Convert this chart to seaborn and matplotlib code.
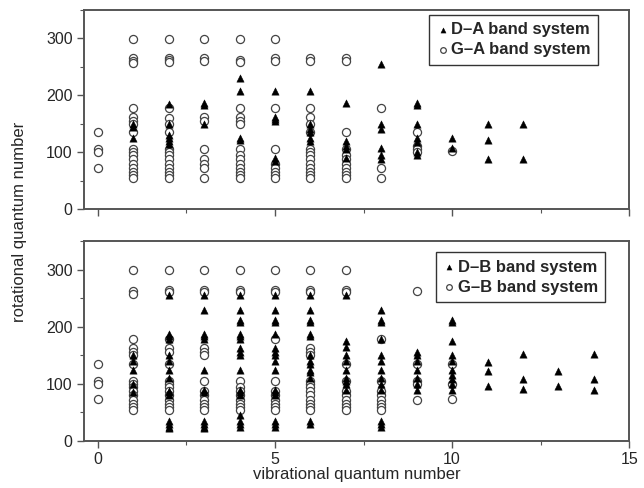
import matplotlib
matplotlib.use("Agg")
import matplotlib.pyplot as plt
from matplotlib.ticker import MultipleLocator
import seaborn as sns
import pandas as pd

# Observed rotational levels J for each vibrational level v
ga_levels = {
    0: [135, 105, 100, 73],
    1: [299, 265, 260, 257, 178, 162, 155, 150, 135, 105, 100, 95, 88, 80, 72, 65, 60, 55],
    2: [299, 265, 262, 258, 178, 160, 150, 135, 105, 100, 95, 88, 80, 72, 65, 60, 55],
    3: [299, 265, 260, 162, 155, 105, 88, 80, 72, 55],
    4: [299, 262, 258, 178, 162, 155, 150, 105, 95, 88, 80, 72, 65, 60, 55],
    5: [299, 265, 260, 178, 105, 80, 72, 65, 60, 55],
    6: [265, 260, 178, 162, 150, 135, 105, 100, 95, 88, 80, 72, 65, 60, 55],
    7: [265, 260, 135, 105, 95, 88, 80, 72, 65, 60, 55],
    8: [178, 72, 55],
    9: [135, 110, 105, 100],
    10: [102],
}
da_levels = {
    1: [150, 145, 125],
    2: [185, 150, 130, 125, 120, 115],
    3: [187, 183, 150],
    4: [230, 207, 125, 122],
    5: [207, 162, 158, 155, 90, 85],
    6: [207, 150, 140, 135, 125, 120],
    7: [187, 120, 110, 105, 90],
    8: [255, 150, 140, 108, 95, 88],
    9: [187, 183, 150, 125, 118, 100, 95],
    10: [125, 108],
    11: [150, 122, 88],
    12: [150, 88],
}
gb_levels = {
    0: [135, 105, 100, 73],
    1: [299, 262, 258, 178, 162, 155, 150, 135, 105, 100, 95, 88, 80, 72, 65, 60, 55],
    2: [299, 265, 260, 178, 162, 155, 135, 105, 100, 95, 88, 80, 72, 65, 60, 55],
    3: [299, 265, 260, 162, 155, 150, 105, 88, 80, 72, 65, 60, 55],
    4: [299, 265, 260, 105, 95, 88, 80, 72, 65, 60, 55],
    5: [299, 265, 260, 178, 105, 88, 80, 72, 65, 60, 55],
    6: [299, 265, 260, 162, 155, 150, 105, 100, 95, 88, 80, 72, 65, 60, 55],
    7: [299, 265, 260, 135, 105, 88, 80, 72, 65, 60, 55],
    8: [178, 105, 88, 80, 72, 65, 60, 55],
    9: [262, 135, 105, 100, 72],
    10: [135, 100, 73],
}
db_levels = {
    1: [150, 140, 125, 100, 85],
    2: [255, 188, 183, 178, 150, 140, 125, 110, 88, 85, 80, 35, 30, 25, 22],
    3: [255, 230, 188, 183, 178, 125, 90, 85, 35, 30, 25, 22],
    4: [255, 230, 212, 208, 188, 183, 178, 162, 155, 150, 125, 90, 85, 80, 45, 35, 30, 25],
    5: [255, 230, 212, 208, 188, 162, 155, 150, 140, 125, 90, 85, 80, 35, 30, 25],
    6: [255, 230, 212, 208, 188, 183, 150, 140, 135, 125, 120, 110, 35, 30],
    7: [255, 175, 165, 150, 140, 125, 110, 105, 100, 90],
    8: [230, 212, 208, 178, 150, 140, 125, 110, 100, 90, 35, 30, 25],
    9: [155, 150, 140, 125, 110, 100, 90],
    10: [212, 208, 175, 150, 140, 125, 115, 108, 100, 90],
    11: [138, 123, 97],
    12: [152, 109, 91],
    13: [123, 97],
    14: [152, 109, 90],
}


def to_frame(levels):
    rows = [(v, j) for v, js in levels.items() for j in js]
    return pd.DataFrame(rows, columns=["v", "J"])


sns.set_style("ticks")
plt.rcParams["font.family"] = ["Liberation Sans", "DejaVu Sans"]

fig = plt.figure(figsize=(6.44, 4.88), dpi=100)
ax_top = fig.add_axes([0.130, 0.5717, 0.847, 0.4078])
ax_bot = fig.add_axes([0.130, 0.0963, 0.847, 0.4098])

spine_col = "#555555"
panels = [
    (ax_top, ga_levels, da_levels, "G–A band system", "D–A band system", (0.943, 0.975)),
    (ax_bot, gb_levels, db_levels, "G–B band system", "D–B band system", (0.956, 0.945)),
]

for ax, g_lv, d_lv, g_lab, d_lab, leg_pos in panels:
    sns.scatterplot(data=to_frame(g_lv), x="v", y="J", ax=ax, marker="o", s=34,
                    facecolor="white", edgecolor="#444444", linewidth=0.9,
                    label=g_lab, zorder=2)
    sns.scatterplot(data=to_frame(d_lv), x="v", y="J", ax=ax, marker="^", s=28,
                    color="black", edgecolor="black", linewidth=0.3,
                    label=d_lab, zorder=3)
    ax.set_xlim(-0.4, 15)
    ax.set_ylim(0, 350)
    ax.set_xlabel("")
    ax.set_ylabel("")
    ax.xaxis.set_major_locator(MultipleLocator(5))
    ax.xaxis.set_minor_locator(MultipleLocator(2.5))
    ax.yaxis.set_major_locator(MultipleLocator(100))
    ax.yaxis.set_minor_locator(MultipleLocator(50))
    ax.tick_params(which="major", direction="out", length=5, width=1.0,
                   color=spine_col, labelsize=11.5, pad=3)
    ax.tick_params(which="minor", direction="out", length=3, width=0.8,
                   color=spine_col)
    for sp in ax.spines.values():
        sp.set_color(spine_col)
        sp.set_linewidth(1.4)

    handles, labels = ax.get_legend_handles_labels()
    order = [1, 0]
    leg = ax.legend([handles[i] for i in order], [labels[i] for i in order],
                    loc="upper right", bbox_to_anchor=leg_pos,
                    frameon=True, fancybox=False, edgecolor="black",
                    prop={"weight": "bold", "size": 12},
                    handletextpad=0.15, handlelength=0.7, borderpad=0.45,
                    labelspacing=0.3, markerscale=0.7, borderaxespad=0)
    leg.get_frame().set_linewidth(1.0)

ax_top.tick_params(axis="x", labelbottom=False)

fig.text(0.03, 0.545, "rotational quantum number", rotation=90,
         ha="center", va="center", fontsize=12)
fig.text(0.554, 0.028, "vibrational quantum number", ha="center",
         va="center", fontsize=12)

fig.savefig("out.png", dpi=100)
